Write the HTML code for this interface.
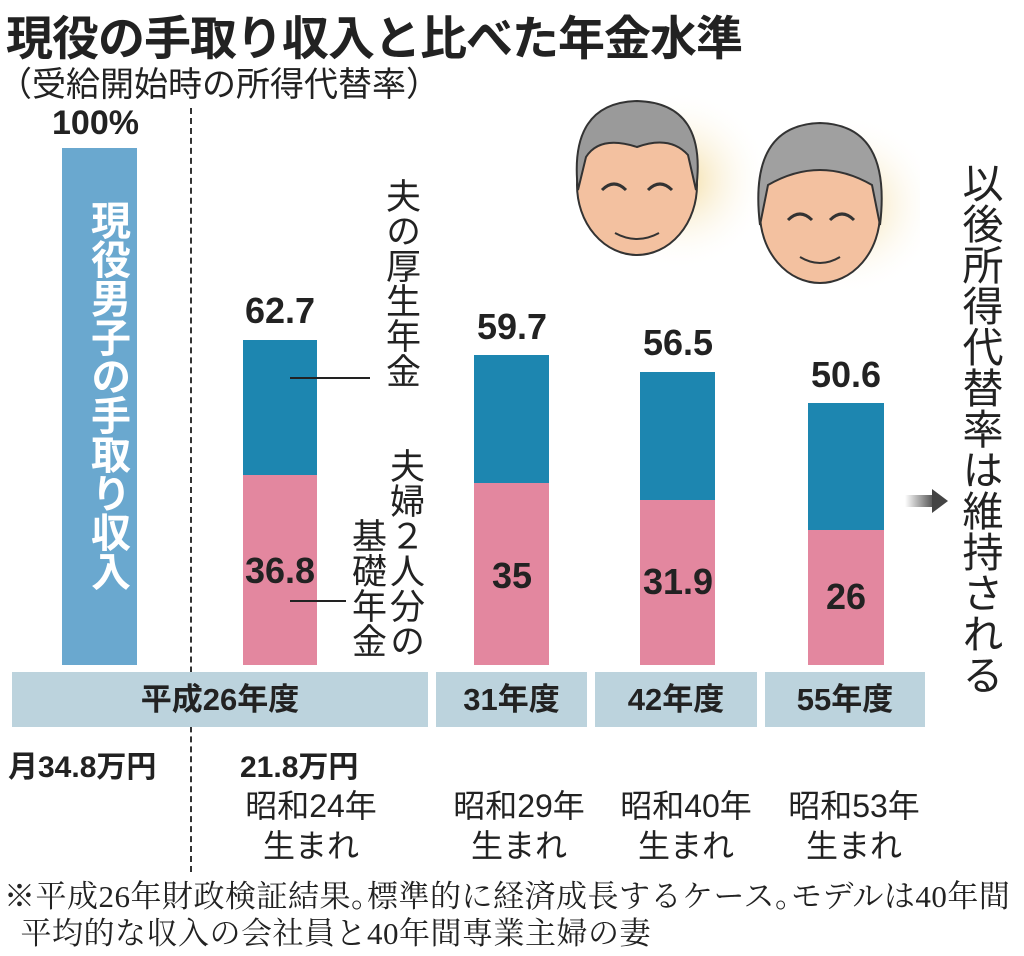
<!DOCTYPE html>
<html><head><meta charset="utf-8">
<style>
body{margin:0;width:1024px;height:956px;background:#fff;position:relative;overflow:hidden;font-family:"Liberation Sans","Noto Sans CJK JP",sans-serif;color:#222}
.a{position:absolute}
.b{font-weight:bold}
.v{writing-mode:vertical-rl;text-orientation:upright;}
.num{font-weight:bold;font-size:36px;text-align:center;width:140px}
.hd{background:#bcd3dd;top:672px;height:55px;font-weight:bold;font-size:31px;line-height:55px;text-align:center}
.lab{font-size:32px;text-align:center;line-height:40px;width:200px}
</style></head><body>
<div class="a b" style="left:6px;top:0px;font-size:47px;letter-spacing:-1px;white-space:nowrap">現役の手取り収入と比べた年金水準</div>
<div class="a" style="left:-2px;top:57px;font-size:34px;white-space:nowrap">（受給開始時の所得代替率）</div>
<div class="a b" style="left:52px;top:104px;font-size:34px">100%</div>
<div class="a" style="left:62px;top:148px;width:75px;height:517px;background:#6aa8cf"></div>
<div class="a b v" style="left:78px;top:200px;font-size:40px;color:#fff;letter-spacing:-1px">現役男子の手取り収入</div>
<div class="a" style="left:190px;top:108px;height:764px;border-left:2px dashed #333"></div>

<div class="a" style="left:243px;top:340px;width:74px;height:135px;background:#1d86b0"></div>
<div class="a" style="left:243px;top:475px;width:74px;height:190px;background:#e3879f"></div>
<div class="a" style="left:474px;top:355px;width:75px;height:128px;background:#1d86b0"></div>
<div class="a" style="left:474px;top:483px;width:75px;height:182px;background:#e3879f"></div>
<div class="a" style="left:640px;top:372px;width:75px;height:128px;background:#1d86b0"></div>
<div class="a" style="left:640px;top:500px;width:75px;height:165px;background:#e3879f"></div>
<div class="a" style="left:808px;top:403px;width:76px;height:127px;background:#1d86b0"></div>
<div class="a" style="left:808px;top:530px;width:76px;height:135px;background:#e3879f"></div>

<div class="a num" style="left:210px;top:290px">62.7</div>
<div class="a num" style="left:442px;top:306px">59.7</div>
<div class="a num" style="left:608px;top:322px">56.5</div>
<div class="a num" style="left:776px;top:354px">50.6</div>
<div class="a num" style="left:210px;top:550px">36.8</div>
<div class="a num" style="left:442px;top:555px">35</div>
<div class="a num" style="left:608px;top:561px">31.9</div>
<div class="a num" style="left:776px;top:576px">26</div>

<div class="a" style="left:290px;top:377px;width:80px;border-top:2px solid #222"></div>
<div class="a" style="left:290px;top:600px;width:56px;border-top:2px solid #222"></div>
<div class="a v" style="left:382px;top:178px;font-size:35px;line-height:36px">夫の厚生年金</div>
<div class="a v" style="left:347px;top:448px;font-size:35px;line-height:38px;height:220px">夫婦２人分の<br><span style="padding-top:70px">基礎年金</span></div>

<div class="a hd" style="left:12px;width:416px">平成26年度</div>
<div class="a hd" style="left:436px;width:151px">31年度</div>
<div class="a hd" style="left:595px;width:162px">42年度</div>
<div class="a hd" style="left:765px;width:160px">55年度</div>

<div class="a b" style="left:8px;top:742px;font-size:30px;white-space:nowrap">月34.8万円</div>
<div class="a b" style="left:240px;top:742px;font-size:30px;white-space:nowrap">21.8万円</div>
<div class="a lab" style="left:211px;top:786px">昭和24年<br>生まれ</div>
<div class="a lab" style="left:419px;top:786px">昭和29年<br>生まれ</div>
<div class="a lab" style="left:586px;top:786px">昭和40年<br>生まれ</div>
<div class="a lab" style="left:754px;top:786px">昭和53年<br>生まれ</div>

<div class="a" style="left:4px;top:878px;font-size:31px;line-height:37px;white-space:nowrap;letter-spacing:0.5px;font-family:'Liberation Serif','Noto Serif CJK SC',serif">※平成26年財政検証結果｡標準的に経済成長するケース｡モデルは40年間<br>&nbsp;&nbsp;平均的な収入の会社員と40年間専業主婦の妻</div>

<div class="a" style="left:905px;top:495px;width:28px;height:12px;background:linear-gradient(90deg,#fff,#555)"></div>
<div class="a" style="left:932px;top:489px;width:0;height:0;border-left:16px solid #444;border-top:12px solid transparent;border-bottom:12px solid transparent"></div>
<div class="a v" style="left:958px;top:162px;font-size:41px;line-height:42px">以後所得代替率は維持される</div>

<svg class="a" style="left:560px;top:85px" width="360" height="220">
<defs><radialGradient id="g"><stop offset="0" stop-color="#f3dca0"/><stop offset="1" stop-color="#fff" stop-opacity="0"/></radialGradient></defs>
<circle cx="120" cy="95" r="90" fill="url(#g)"/>
<circle cx="290" cy="120" r="90" fill="url(#g)"/>
<ellipse cx="77" cy="100" rx="60" ry="70" fill="#f3c1a0" stroke="#333" stroke-width="2"/>
<path d="M18 105 Q8 18 77 16 Q148 18 136 105 L128 70 Q110 50 77 62 Q40 50 26 72Z" fill="#9a9a9a" stroke="#333" stroke-width="2"/>
<path d="M42 105 q12-12 24 0 M88 105 q12-12 24 0" stroke="#333" stroke-width="3" fill="none"/>
<path d="M55 148 q22 12 44 0" stroke="#333" stroke-width="2" fill="none"/>
<ellipse cx="260" cy="128" rx="60" ry="70" fill="#f3c1a0" stroke="#333" stroke-width="2"/>
<path d="M200 140 Q188 40 260 38 Q332 40 320 140 L312 100 Q260 70 208 100Z" fill="#a0a0a0" stroke="#333" stroke-width="2"/>
<path d="M228 135 q12-12 24 0 M270 135 q12-12 24 0" stroke="#333" stroke-width="3" fill="none"/>
<path d="M240 172 q20 12 40 0" stroke="#333" stroke-width="2" fill="none"/>
</svg>
</body></html>
